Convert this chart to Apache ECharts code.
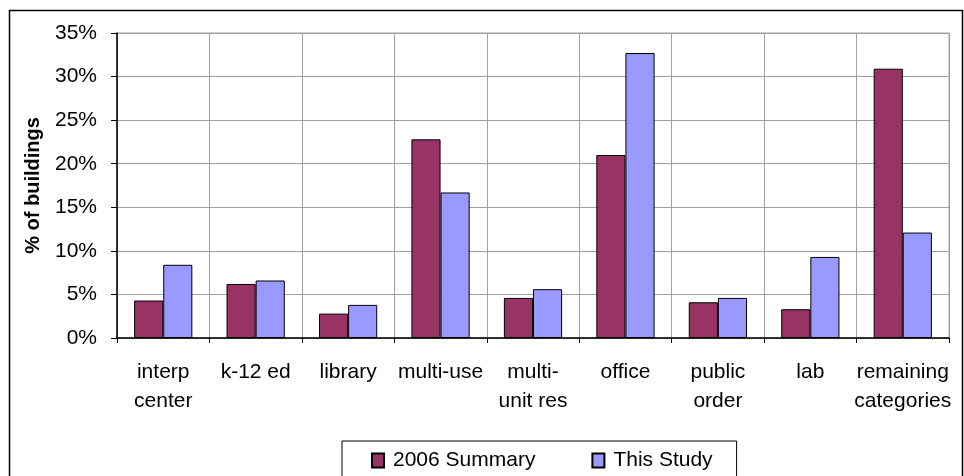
<!DOCTYPE html>
<html>
<head>
<meta charset="utf-8">
<script src="https://cdn.jsdelivr.net/npm/echarts@6/dist/echarts.min.js"></script>
<style>
  html, body { margin: 0; padding: 0; background: #fff; }
  #chart { width: 964px; height: 476px; }
</style>
</head>
<body>
<div id="chart"></div>
<script>
// categories and values (% of buildings)
var categories = ['interp\ncenter', 'k-12 ed', 'library', 'multi-use', 'multi-\nunit res',
                  'office', 'public\norder', 'lab', 'remaining\ncategories'];
var summary2006 = [4.3, 6.2, 2.8, 22.8, 4.6, 21.0, 4.1, 3.3, 30.9];
var thisStudy = [8.4, 6.6, 3.8, 16.7, 5.6, 32.7, 4.6, 9.3, 12.1];
var seriesNames = ['2006 Summary', 'This Study'];

var font = 'Liberation Sans, Arial, sans-serif';

var myChart = echarts.init(document.getElementById('chart'), null, { renderer: 'canvas' });

var option = {
    animation: false,
    backgroundColor: '#fff',
    textStyle: { fontFamily: font, color: '#000' },
    // outer chart frame
    graphic: [{
        type: 'rect',
        shape: { x: 9.5, y: 10.5, width: 953, height: 470 },
        style: { fill: 'none', stroke: '#000', lineWidth: 1.5 },
        silent: true
    }],
    grid: {
        left: 117, right: 15, top: 33, bottom: 138,
        show: true, borderColor: '#a0a0a0', borderWidth: 1
    },
    legend: {
        data: seriesNames,
        left: 342, top: 441,
        orient: 'horizontal',
        icon: 'rect',
        itemWidth: 12, itemHeight: 14,
        itemGap: 56,
        padding: [9, 24, 9, 29],
        borderColor: '#000', borderWidth: 1,
        textStyle: { fontFamily: font, fontSize: 21, color: '#000', padding: [0, 0, 0, 4] }
    },
    xAxis: {
        type: 'category',
        data: categories,
        axisLine: { lineStyle: { color: '#000', width: 1.5 } },
        axisTick: { show: true, length: 5, lineStyle: { color: '#000' } },
        splitLine: { show: true, interval: 0, lineStyle: { color: '#a0a0a0', width: 1 } },
        axisLabel: { interval: 0, margin: 20, fontSize: 21, lineHeight: 29, color: '#000', fontFamily: font }
    },
    yAxis: {
        type: 'value',
        min: 0, max: 35, interval: 5,
        name: '% of buildings',
        nameLocation: 'middle',
        nameGap: 74,
        nameTextStyle: { fontFamily: font, fontSize: 20, fontWeight: 'bold', color: '#000' },
        axisLine: { show: true, lineStyle: { color: '#000', width: 1.5 } },
        axisTick: { show: true, length: 6, lineStyle: { color: '#000' } },
        splitLine: { lineStyle: { color: '#a0a0a0', width: 1 } },
        axisLabel: { formatter: '{value}%', fontSize: 21, margin: 20, color: '#000', fontFamily: font }
    },
    series: [{
        name: seriesNames[0],
        type: 'bar',
        data: summary2006,
        barGap: '0%',
        barCategoryGap: '37%',
        itemStyle: { color: '#993366', borderColor: '#000', borderWidth: 1 }
    }, {
        name: seriesNames[1],
        type: 'bar',
        data: thisStudy,
        barGap: '0%',
        barCategoryGap: '37%',
        itemStyle: { color: '#9999ff', borderColor: '#000', borderWidth: 1 }
    }]
};

myChart.setOption(option);
</script>
</body>
</html>
